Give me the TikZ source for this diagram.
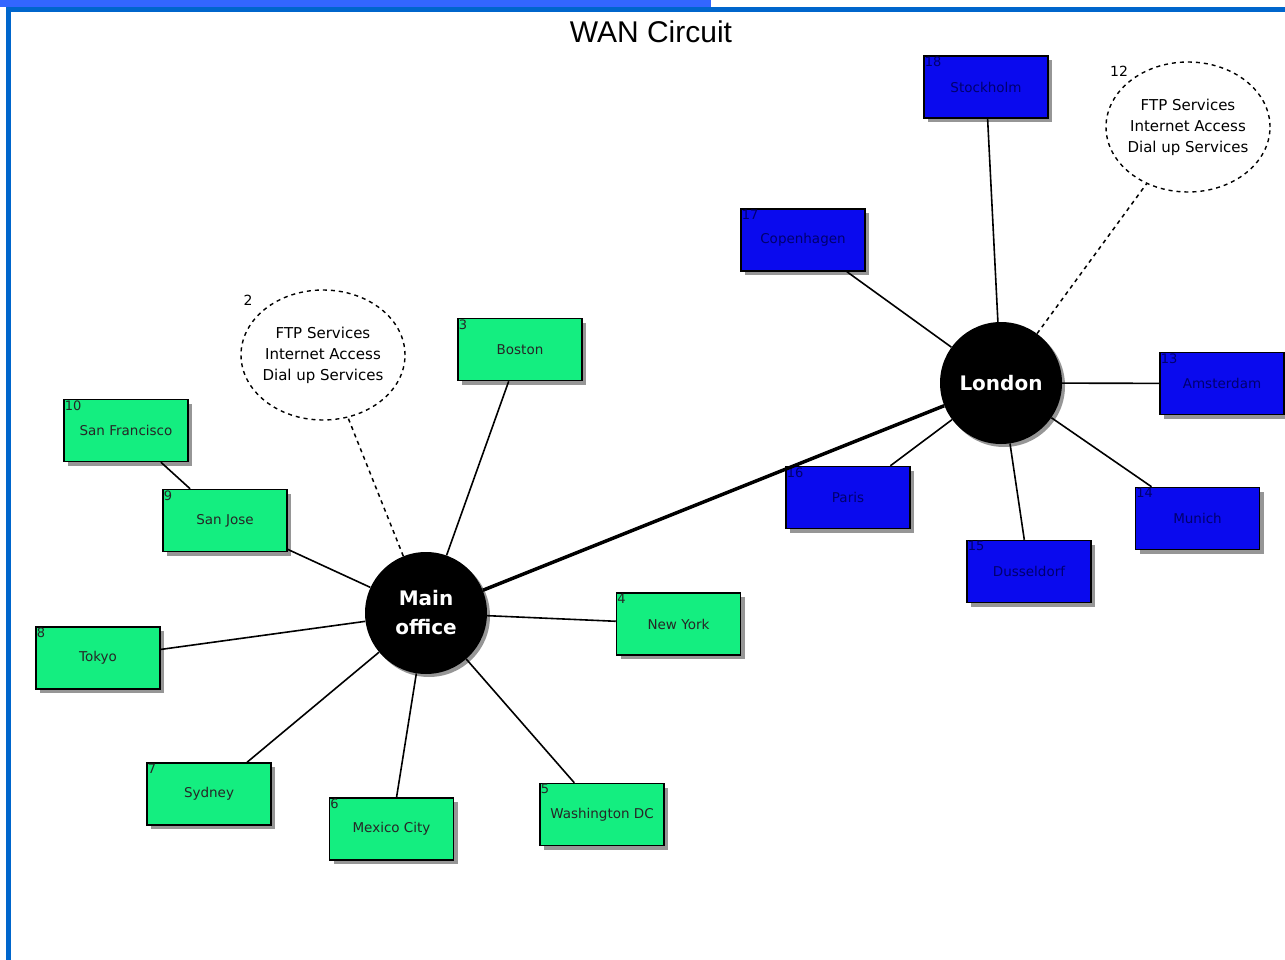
\documentclass[tikz,border=0pt]{standalone}
\usepackage{fontspec}
\setmainfont{DejaVu Sans}
\newfontfamily\titlefont{Liberation Sans}
\usetikzlibrary{shapes.geometric,shadows}
\definecolor{gfill}{RGB}{20,238,128}
\definecolor{bfill}{RGB}{10,10,238}
\definecolor{btext}{RGB}{0,0,110}
\definecolor{barlight}{RGB}{51,102,255}
\definecolor{bardark}{RGB}{0,102,204}
\definecolor{shade}{RGB}{150,150,150}
\tikzset{
  site/.style={draw=black, line width=1.5pt, minimum width=124pt, minimum height=62pt,
    inner sep=0pt, font=\fontsize{13.5}{16}\selectfont,
    drop shadow={shadow xshift=4pt, shadow yshift=-4pt, fill=shade, opacity=1}},
  gsite/.style={site, fill=gfill, text=black!85},
  bsite/.style={site, fill=bfill, text=btext},
  num/.style={anchor=north west, inner sep=1.5pt, font=\fontsize{13}{14}\selectfont},
  gnum/.style={num, text=black!85},
  bnum/.style={num, text=btext},
  hub/.style={circle, fill=black, minimum size=122pt, inner sep=0pt, text=white,
    align=center, font=\bfseries\fontsize{20}{29}\selectfont,
    drop shadow={shadow xshift=3pt, shadow yshift=-3pt, fill=shade, opacity=1}},
  svc/.style={ellipse, draw=black, line width=1.4pt, dash pattern=on 4pt off 4pt,
    minimum width=164pt, minimum height=130pt, inner sep=-4pt, align=center,
    font=\fontsize{15}{21}\selectfont},
  svcnum/.style={font=\fontsize{14}{16}\selectfont, inner sep=0pt},
  link/.style={draw=black, line width=1.6pt},
  dlink/.style={draw=black, line width=1.5pt, dash pattern=on 4pt off 4pt},
  trunk/.style={draw=black, line width=3.5pt},
}
\begin{document}
\begin{tikzpicture}[x=1pt,y=-1pt]
\fill[white] (0,0) rectangle (1285,960);
\useasboundingbox (0,0) rectangle (1285,960);
% frame
\fill[barlight] (0,0) rectangle (711,7);
\fill[bardark] (6,7) rectangle (1285,12);
\fill[bardark] (6,7) rectangle (11,960);
% title
\node[font=\titlefont\fontsize{30}{34}\selectfont, inner sep=0pt] (title) at (651,32) {WAN Circuit};

% hubs
\node[hub] (main) at (426,613) {Main\\office};
\node[hub] (london) at (1001,383) {London};

% green sites
\node[gsite] (boston) at (520,349.5) {Boston};
\node[gsite] (newyork) at (678.5,624) {New York};
\node[gsite] (washington) at (602,814.5) {Washington DC};
\node[gsite] (mexico) at (391.5,829) {Mexico City};
\node[gsite] (sydney) at (209,794) {Sydney};
\node[gsite] (tokyo) at (98,658) {Tokyo};
\node[gsite] (sanjose) at (225,520.5) {San Jose};
\node[gsite] (sanfran) at (126,430.5) {San Francisco};
\node[gnum] (n3) at (boston.north west) {3};
\node[gnum] (n4) at (newyork.north west) {4};
\node[gnum] (n5) at (washington.north west) {5};
\node[gnum] (n6) at (mexico.north west) {6};
\node[gnum] (n7) at (sydney.north west) {7};
\node[gnum] (n8) at (tokyo.north west) {8};
\node[gnum] (n9) at (sanjose.north west) {9};
\node[gnum] (n10) at (sanfran.north west) {10};

% blue sites
\node[bsite] (stockholm) at (986,87) {Stockholm};
\node[bsite] (copenhagen) at (803,240) {Copenhagen};
\node[bsite] (amsterdam) at (1222,383.5) {Amsterdam};
\node[bsite] (paris) at (848,497.5) {Paris};
\node[bsite] (dusseldorf) at (1029,571.5) {Dusseldorf};
\node[bsite] (munich) at (1197.5,518.5) {Munich};
\node[bnum] (n18) at (stockholm.north west) {18};
\node[bnum] (n17) at (copenhagen.north west) {17};
\node[bnum] (n13) at (amsterdam.north west) {13};
\node[bnum] (n16) at (paris.north west) {16};
\node[bnum] (n15) at (dusseldorf.north west) {15};
\node[bnum] (n14) at (munich.north west) {14};

% service clouds
\node[svc] (svc1) at (323,355) {FTP Services\\Internet Access\\Dial up Services};
\node[svcnum] (svc1n) at (248,300) {2};
\node[svc] (svc2) at (1188,127) {FTP Services\\Internet Access\\Dial up Services};
\node[svcnum] (svc2n) at (1119,71) {12};

% connectors
\draw[link] (main) -- (boston);
\draw[link] (main) -- (newyork);
\draw[link] (main) -- (washington);
\draw[link] (main) -- (mexico);
\draw[link] (main) -- (sydney);
\draw[link] (main) -- (tokyo);
\draw[link] (main) -- (sanjose);
\draw[link] (sanfran) -- (sanjose);
\draw[dlink] (main) -- (svc1);
\draw[trunk] (main) -- (london);
\draw[link] (london) -- (stockholm);
\draw[link] (london) -- (copenhagen);
\draw[link] (london) -- (amsterdam);
\draw[link] (london) -- (munich);
\draw[link] (london) -- (dusseldorf);
\draw[link] (london) -- (paris);
\draw[dlink] (london) -- (svc2);
\end{tikzpicture}
\end{document}
